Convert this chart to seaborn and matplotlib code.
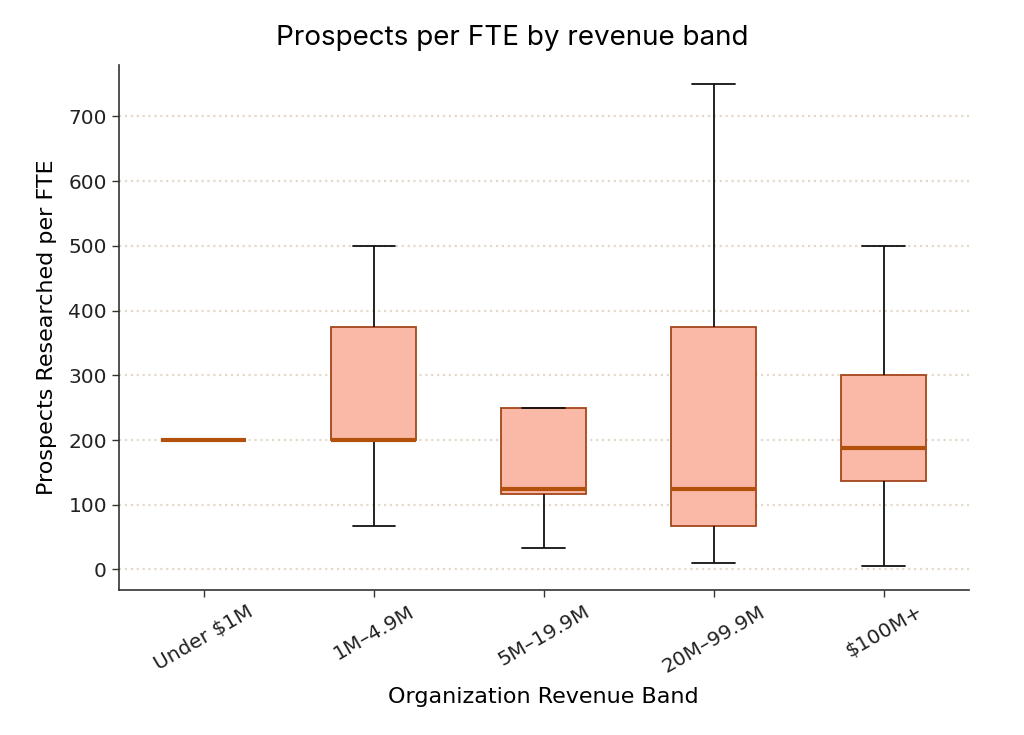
import pandas as pd
import matplotlib
matplotlib.use("Agg")
import matplotlib.pyplot as plt
import numpy as np
import seaborn as sns

# Values (5 points per band: min, Q1, median, Q3, max)
bands = ["Under $1M", "1M–4.9M", "5M–19.9M", "20M–99.9M", "$100M+"]
under_1m = [200, 200, 200, 200, 200]
m1_49 = [67, 200, 200, 375, 500]
m5_199 = [33, 117, 125, 250, 250]
m20_999 = [10, 67, 125, 375, 750]
m100_plus = [5, 137, 188, 300, 500]

rows = []
for band, vals in zip(bands, [under_1m, m1_49, m5_199, m20_999, m100_plus]):
    for v in vals:
        rows.append({"band": band, "prospects": v})
df = pd.DataFrame(rows)

sns.set_style("white")
plt.rcParams["font.family"] = ["DejaVu Sans"]
plt.rcParams["text.color"] = "black"
plt.rcParams["axes.labelcolor"] = "black"
plt.rcParams["xtick.color"] = "#333333"
plt.rcParams["ytick.color"] = "#333333"

fig = plt.figure(figsize=(10.24, 7.35), dpi=100)
ax = fig.add_axes([0.116, 0.197, 0.830, 0.715])

sns.boxplot(
    data=df, x="band", y="prospects", order=bands, ax=ax,
    width=0.5, whis=np.inf, showfliers=False,
    boxprops=dict(facecolor="#f9b9a6", edgecolor="#a4461a", linewidth=1.3),
    medianprops=dict(color="#b3500c", linewidth=3),
    whiskerprops=dict(color="#111111", linewidth=1.3),
    capprops=dict(color="#111111", linewidth=1.3),
)

ax.set_ylim(-32, 780)
ax.set_xlim(-0.5, 4.5)
ax.set_yticks([0, 100, 200, 300, 400, 500, 600, 700])
ax.yaxis.grid(True, linestyle=":", color="#e4dacb", linewidth=1.6)
ax.set_axisbelow(True)
sns.despine(ax=ax)
for s in ["left", "bottom"]:
    ax.spines[s].set_color("#333333")
    ax.spines[s].set_linewidth(1.2)

ax.tick_params(axis="both", labelsize=14.5, length=5, width=1, left=True, bottom=True,
               labelcolor="#222222")
plt.setp(ax.get_xticklabels(), rotation=30)
ax.set_xlabel("Organization Revenue Band", fontsize=16, labelpad=8)
ax.set_ylabel("Prospects Researched per FTE", fontsize=16, labelpad=8)
fig.suptitle("Prospects per FTE by revenue band", fontsize=20, family="Inter",
             x=0.5, y=0.948, va="center")

fig.savefig("out.png", dpi=100)
